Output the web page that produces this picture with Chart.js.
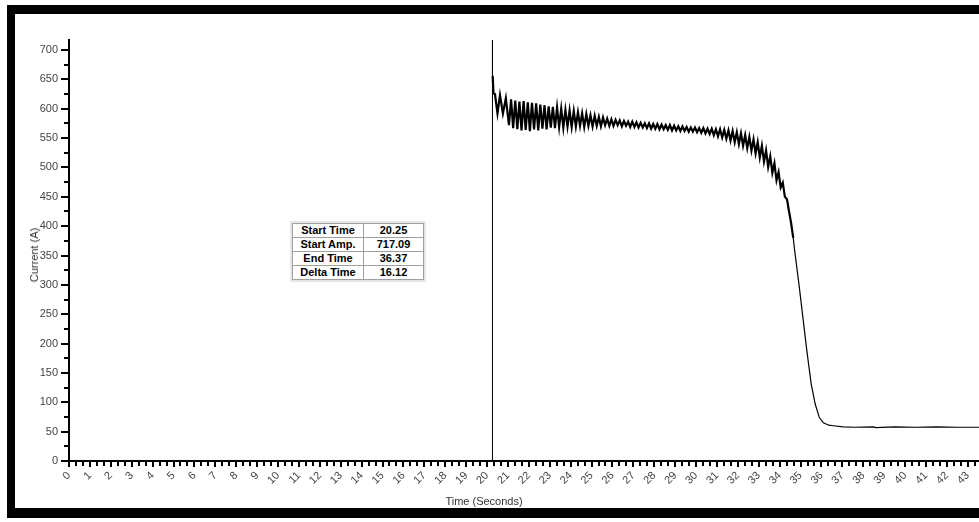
<!DOCTYPE html>
<html>
<head>
<meta charset="utf-8">
<script src="https://cdn.jsdelivr.net/npm/chart.js@4.4.1/dist/chart.umd.min.js"></script>
<style>
  body { margin: 0; background: #fff; overflow: hidden; width: 979px; height: 522px; position: relative;
         font-family: "Liberation Sans", Arial, sans-serif; }
  #wrap { position: absolute; left: 0; top: 0; width: 1000px; height: 522px; }
  .edge { position: absolute; background: #000; z-index: 5; }
  .axis-title { position: absolute; font-size: 11px; color: #333; white-space: nowrap; z-index: 4;
                transform: translate(-50%, -50%); }
  #info { position: absolute; left: 290px; top: 221px; background: #e6e6e6; padding: 2px; z-index: 4; }
  #info table { border-collapse: collapse; background: #fff; font: bold 11px "Liberation Sans", Arial, sans-serif; color: #000; }
  #info td { border: 1px solid #a0a0a0; height: 13px; padding: 0; text-align: center; line-height: 13px; }
  #info td.k { width: 70px; }
  #info td.v { width: 59px; }
</style>
</head>
<body>
<div id="wrap"><canvas id="chart"></canvas></div>

<div class="edge" style="left:7px; top:5px; width:8px; height:513px;"></div>
<div class="edge" style="left:7px; top:5px; width:972px; height:9px;"></div>
<div class="edge" style="left:7px; top:508px; width:972px; height:10px;"></div>

<div class="axis-title" style="left:34px; top:255px; transform: translate(-50%, -50%) rotate(-90deg);">Current (A)</div>
<div class="axis-title" style="left:484px; top:501px;">Time (Seconds)</div>

<div id="info">
  <table>
    <tr><td class="k">Start Time</td><td class="v">20.25</td></tr>
    <tr><td class="k">Start Amp.</td><td class="v">717.09</td></tr>
    <tr><td class="k">End Time</td><td class="v">36.37</td></tr>
    <tr><td class="k">Delta Time</td><td class="v">16.12</td></tr>
  </table>
</div>

<script>
// axis ranges
const xMax = 44.33;
const yMax = 717.09;

// idle, then the inrush spike (seconds, amps)
const spikeTime = [0, 20.25, 20.25, 20.27];
const spikeAmp  = [0, 0, 717.09, 656];

// first slow wiggles after the spike
const headTime = [20.27, 20.31, 20.38, 20.5, 20.62, 20.76, 20.9, 21.05, 21.15];
const headAmp  = [656, 626, 625, 592, 623, 592, 618, 572, 616];

// oscillating band, sampled every 0.1 s starting at 21.25 s
const bandStart = 21.25;
const bandStep = 0.1;
const bandAmp = [
  567, 614, 565, 612, 563, 613, 564, 611, 562, 610,
  565, 609, 563, 607, 566, 606, 565, 604, 568, 603,
  567, 602, 569, 600, 568, 598, 570, 597, 569, 596,
  570, 594, 571, 592, 569, 591, 571, 589, 570, 588,
  571, 586, 570, 585, 572, 583, 571, 582, 571, 581,
  572, 580, 570, 579, 571, 578, 569, 578, 569, 577,
  568, 576, 568, 575, 567, 575, 566, 574, 566, 574,
  565, 573, 565, 572, 564, 572, 563, 571, 563, 570,
  562, 570, 562, 569, 561, 568, 561, 568, 560, 567,
  559, 567, 558, 566, 557, 566, 555, 565, 553, 565,
  551, 564, 549, 563, 546, 562, 543, 560, 540, 558,
  537, 555, 533, 552, 529, 548, 524, 543, 517, 537,
  510, 529, 501, 519, 491, 507, 478, 492, 466, 474,
  450, 446, 425, 405, 380
];

// collapse and flat tail
const tailTime = [34.72, 34.92, 35.11, 35.3, 35.51, 35.7, 35.9, 36.09, 36.35, 36.57, 37.04, 37.6, 38.5, 38.6, 39.5, 40.5, 41.5, 42.5, 44.33];
const tailAmp  = [358, 302, 245, 188, 131, 97, 74, 65, 61, 60, 58, 57.5, 58, 57, 58, 57.5, 58, 57.5, 57.5];

const spike = spikeTime.map((t, i) => ({ x: t, y: spikeAmp[i] }));
const noisy = headTime.map((t, i) => ({ x: t, y: headAmp[i] }));
bandAmp.forEach((a, i) => noisy.push({ x: +(bandStart + i * bandStep).toFixed(2), y: a }));
const tail = [noisy[noisy.length - 1]];
tailTime.forEach((t, i) => tail.push({ x: t, y: tailAmp[i] }));

// tick marks: long at labels, short in between
const axisTicks = {
  id: 'axisTicks',
  afterDraw(chart) {
    const { ctx, chartArea, scales: { x, y } } = chart;
    ctx.save();
    ctx.strokeStyle = '#000';
    ctx.lineWidth = 2;
    ctx.beginPath();
    for (let v = 0; v <= yMax; v += 25) {
      const py = Math.round(y.getPixelForValue(v));
      const len = v % 50 === 0 ? 8 : 5;
      ctx.moveTo(chartArea.left - len, py);
      ctx.lineTo(chartArea.left, py);
    }
    for (let i = 0; i / 3 <= xMax; i++) {
      const px = Math.round(x.getPixelForValue(i / 3));
      const len = i % 3 === 0 ? 6 : 5;
      ctx.moveTo(px, chartArea.bottom);
      ctx.lineTo(px, chartArea.bottom + len);
    }
    ctx.stroke();
    ctx.restore();
  }
};

const labelFont = { family: '"Liberation Sans", Arial, sans-serif', size: 11 };
const trace = (data, width) => ({
  data: data,
  borderColor: '#000',
  borderWidth: width,
  pointRadius: 0,
  tension: 0,
  fill: false
});

new Chart(document.getElementById('chart'), {
  type: 'line',
  data: {
    datasets: [trace(spike, 1), trace(noisy, 2.2), trace(tail, 1.2)]
  },
  options: {
    responsive: true,
    maintainAspectRatio: false,
    animation: false,
    layout: { padding: { left: 27, top: 40, right: 0, bottom: 14 } },
    plugins: { legend: { display: false }, tooltip: { enabled: false } },
    scales: {
      x: {
        type: 'linear',
        min: 0,
        max: xMax,
        grid: { display: false, drawTicks: true, tickLength: 6 },
        border: { display: true, color: '#000', width: 2 },
        ticks: {
          stepSize: 1,
          includeBounds: false,
          autoSkip: false,
          minRotation: 45,
          maxRotation: 45,
          padding: 2,
          color: '#444',
          font: labelFont
        },
        afterFit: s => { s.height = 47; }
      },
      y: {
        min: 0,
        max: yMax,
        grid: { display: false, drawTicks: true, tickLength: 8 },
        border: { display: true, color: '#000', width: 2 },
        ticks: {
          stepSize: 50,
          includeBounds: false,
          padding: 3,
          color: '#444',
          font: labelFont
        },
        afterFit: s => { s.width = 42; }
      }
    }
  },
  plugins: [axisTicks]
});
</script>
</body>
</html>
